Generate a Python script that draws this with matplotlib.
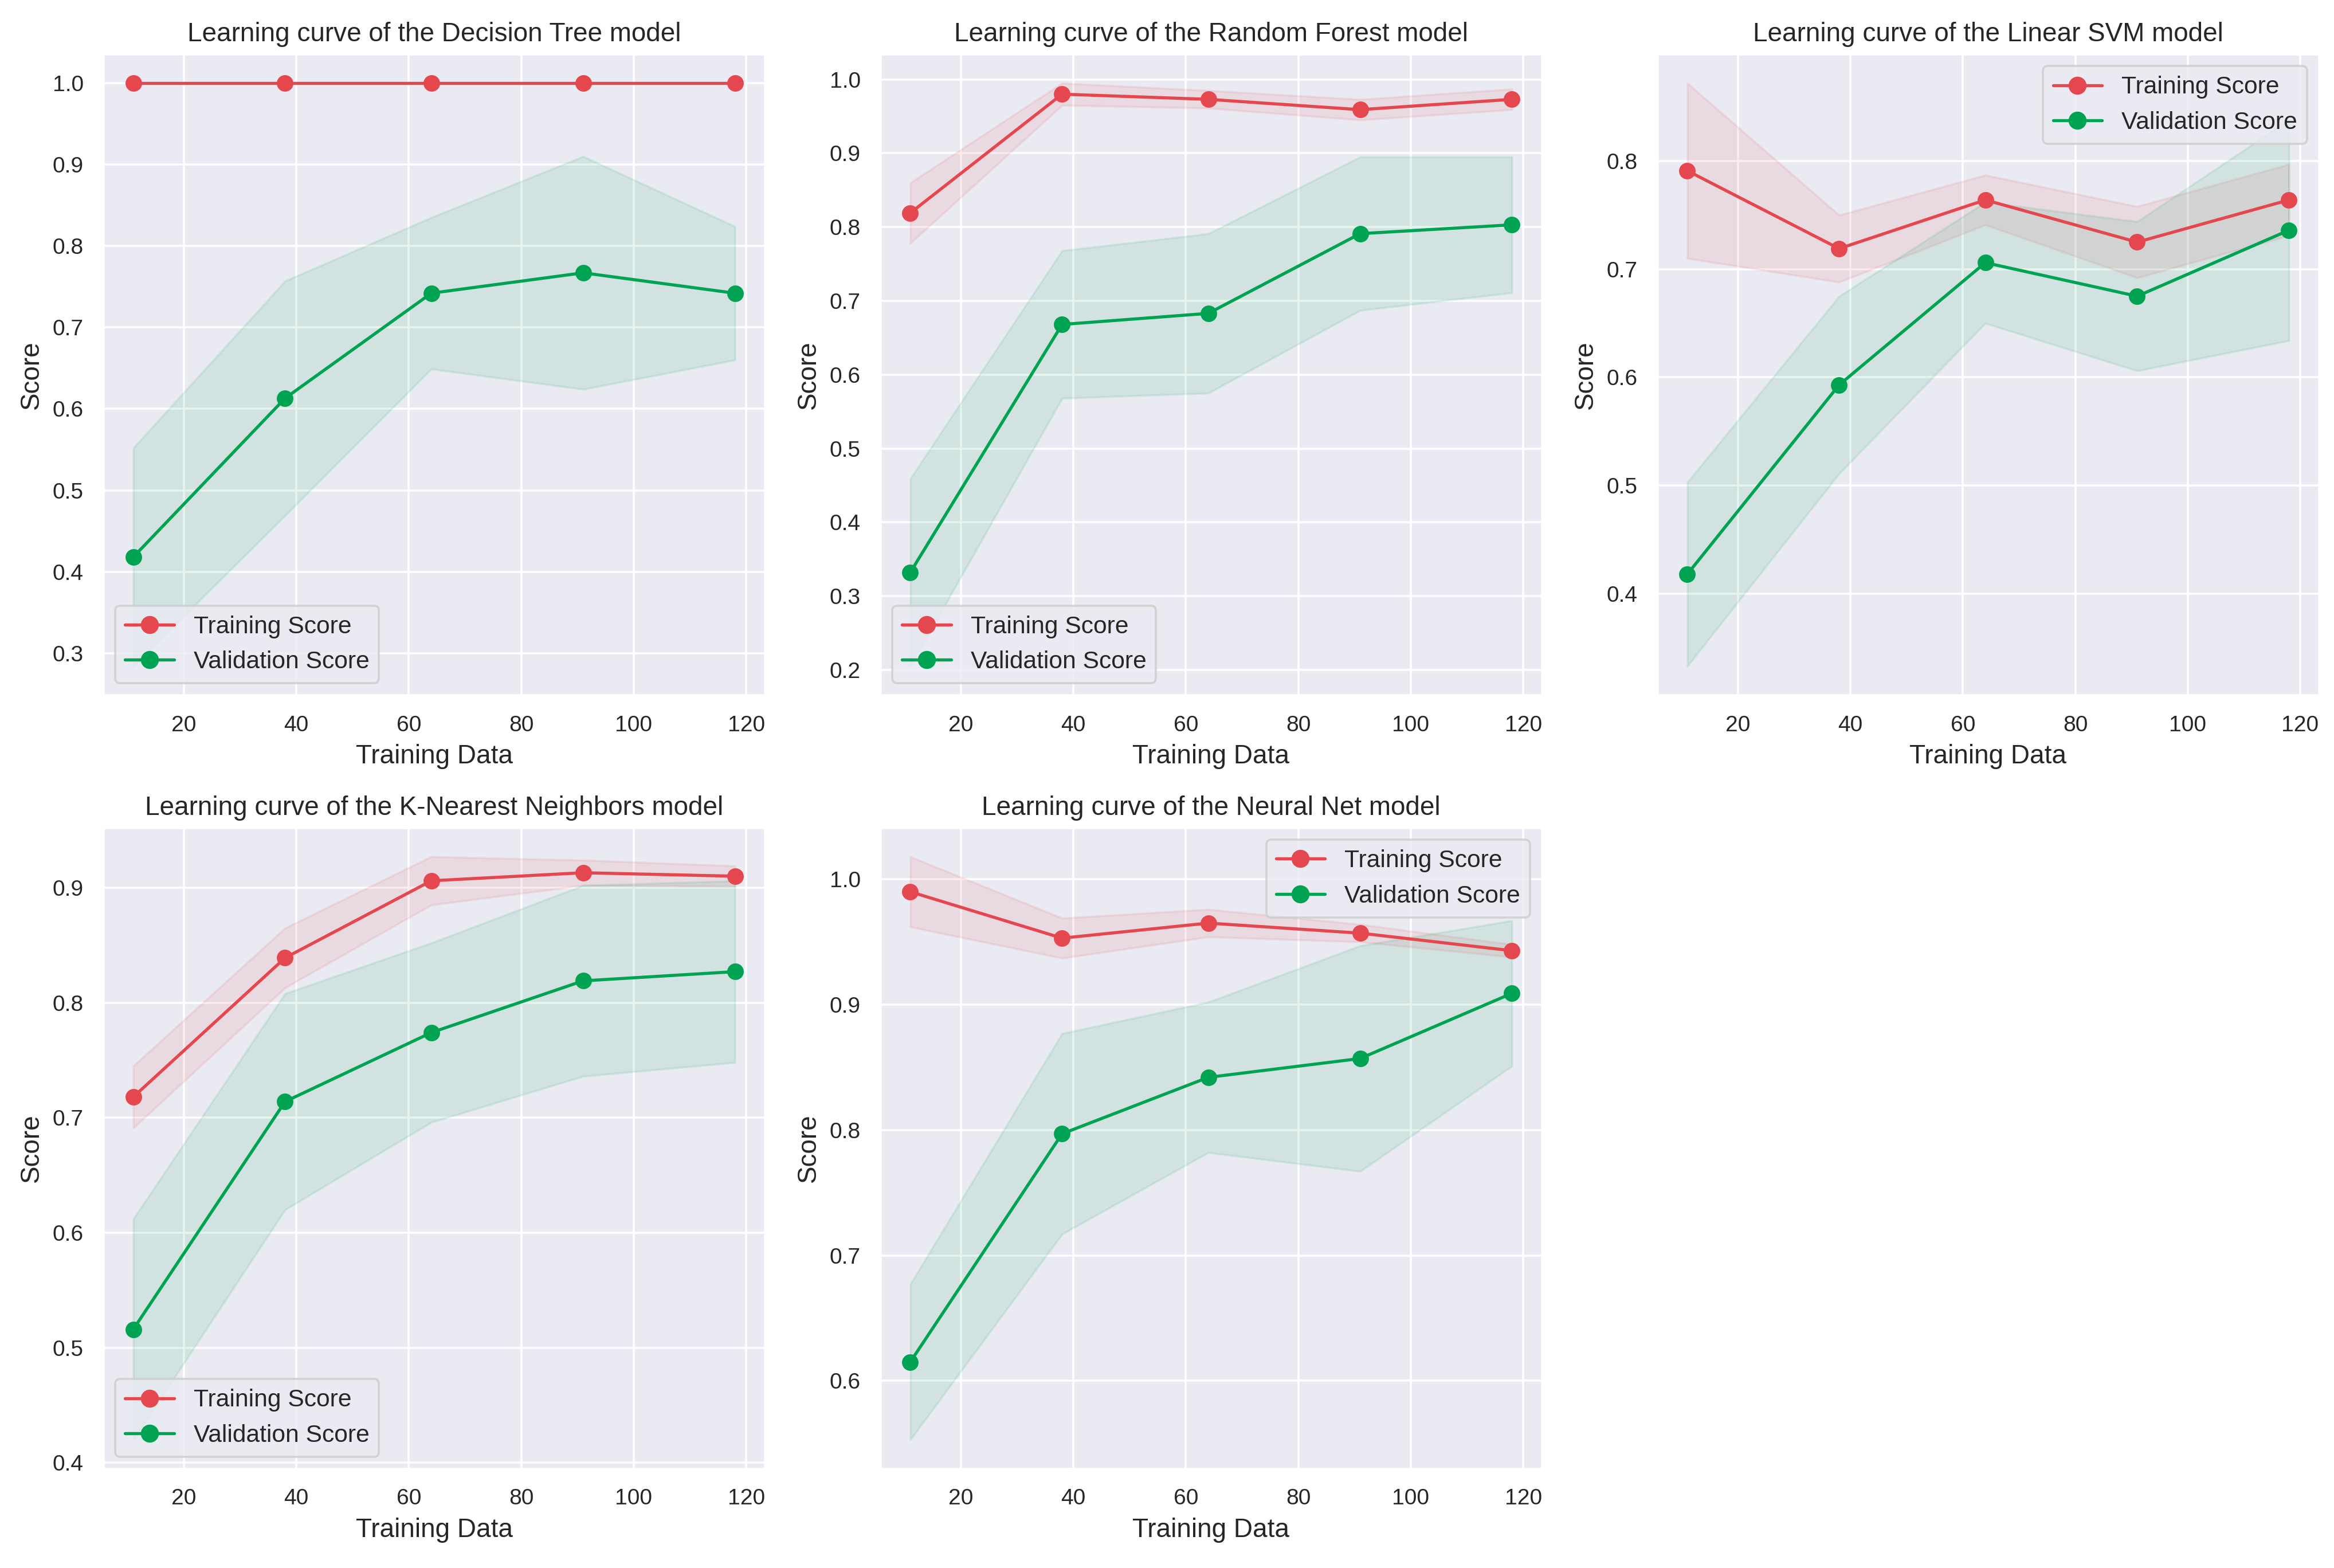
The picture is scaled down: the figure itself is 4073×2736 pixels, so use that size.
import matplotlib
matplotlib.use("Agg")
import matplotlib.pyplot as plt
import seaborn as sns
import numpy as np

sns.set_theme(style="darkgrid")
plt.rcParams['font.family'] = ['Liberation Sans', 'DejaVu Sans']

train_sizes = [11, 38, 64, 91, 118]

models = ["Decision Tree", "Random Forest", "Linear SVM", "K-Nearest Neighbors", "Neural Net"]
legend_locs = ["lower left", "lower left", "upper right", "lower left", "upper right"]

dt_train_mean = [1.0, 1.0, 1.0, 1.0, 1.0]
dt_train_std = [0.0, 0.0, 0.0, 0.0, 0.0]
dt_val_mean = [0.418, 0.613, 0.742, 0.767, 0.742]
dt_val_std = [0.134, 0.144, 0.093, 0.143, 0.082]

rf_train_mean = [0.819, 0.980, 0.973, 0.959, 0.973]
rf_train_std = [0.041, 0.015, 0.012, 0.014, 0.014]
rf_val_mean = [0.332, 0.668, 0.683, 0.791, 0.803]
rf_val_std = [0.127, 0.100, 0.108, 0.104, 0.092]

svm_train_mean = [0.791, 0.719, 0.764, 0.725, 0.764]
svm_train_std = [0.081, 0.031, 0.023, 0.033, 0.033]
svm_val_mean = [0.418, 0.593, 0.706, 0.675, 0.736]
svm_val_std = [0.085, 0.082, 0.056, 0.069, 0.102]

knn_train_mean = [0.718, 0.839, 0.906, 0.913, 0.910]
knn_train_std = [0.027, 0.026, 0.021, 0.011, 0.009]
knn_val_mean = [0.516, 0.714, 0.774, 0.819, 0.827]
knn_val_std = [0.096, 0.094, 0.078, 0.083, 0.079]

nn_train_mean = [0.990, 0.953, 0.965, 0.957, 0.943]
nn_train_std = [0.028, 0.016, 0.011, 0.007, 0.005]
nn_val_mean = [0.615, 0.797, 0.842, 0.857, 0.909]
nn_val_std = [0.062, 0.080, 0.060, 0.090, 0.058]

results = [
    (dt_train_mean, dt_train_std, dt_val_mean, dt_val_std),
    (rf_train_mean, rf_train_std, rf_val_mean, rf_val_std),
    (svm_train_mean, svm_train_std, svm_val_mean, svm_val_std),
    (knn_train_mean, knn_train_std, knn_val_mean, knn_val_std),
    (nn_train_mean, nn_train_std, nn_val_mean, nn_val_std),
]

red = "#e5474f"
green = "#00a352"

fig, axes = plt.subplots(2, 3, figsize=(4073/260, 2736/260), dpi=260)
fig.subplots_adjust(left=0.0442, right=0.9936, top=0.9656, bottom=0.0632,
                    wspace=0.174, hspace=0.206)
axes = axes.ravel()
x = np.array(train_sizes)
for ax, name, loc, (tm, ts, vm, vs) in zip(axes, models, legend_locs, results):
    tm, ts, vm, vs = map(np.array, (tm, ts, vm, vs))
    ax.fill_between(x, tm - ts, tm + ts, color=red, alpha=0.1)
    ax.fill_between(x, vm - vs, vm + vs, color=green, alpha=0.1)
    ax.plot(x, tm, 'o-', color=red, label="Training Score", lw=1.5, ms=7)
    ax.plot(x, vm, 'o-', color=green, label="Validation Score", lw=1.5, ms=7)
    ax.set_title(f"Learning curve of the {name} model", fontsize=12.7)
    ax.set_xlabel("Training Data", fontsize=12.7)
    ax.set_ylabel("Score", fontsize=12.7)
    ax.tick_params(labelsize=10.8)
    ax.legend(loc=loc, fontsize=11.8, markerscale=1.1)
axes[5].remove()

fig.savefig("out.png", dpi=260)
